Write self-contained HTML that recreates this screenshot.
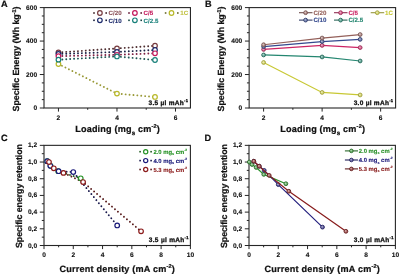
<!DOCTYPE html><html><head><meta charset="utf-8"><style>html,body{margin:0;padding:0;background:#fff;width:400px;height:275px;overflow:hidden}svg{display:block;will-change:transform;filter:blur(0.3px)}text{font-family:"Liberation Sans",sans-serif;font-weight:bold;text-rendering:geometricPrecision}</style></head><body>
<svg width="400" height="275" viewBox="0 0 400 275">
<rect width="400" height="275" fill="#fff"/>
<text x="1" y="7" font-size="9.2" text-anchor="start" fill="#111" stroke="#111" stroke-width="0.2" >A</text>
<line x1="39.8" y1="108" x2="44" y2="108" stroke="#262626" stroke-width="1" />
<text x="37.1" y="110.05" font-size="6.6" text-anchor="end" fill="#111" stroke="#111" stroke-width="0.12" >0</text>
<line x1="41.8" y1="99.63" x2="44" y2="99.63" stroke="#262626" stroke-width="1" />
<line x1="41.8" y1="91.27" x2="44" y2="91.27" stroke="#262626" stroke-width="1" />
<line x1="41.8" y1="82.9" x2="44" y2="82.9" stroke="#262626" stroke-width="1" />
<line x1="39.8" y1="74.53" x2="44" y2="74.53" stroke="#262626" stroke-width="1" />
<text x="37.1" y="76.58" font-size="6.6" text-anchor="end" fill="#111" stroke="#111" stroke-width="0.12" >200</text>
<line x1="41.8" y1="66.17" x2="44" y2="66.17" stroke="#262626" stroke-width="1" />
<line x1="41.8" y1="57.8" x2="44" y2="57.8" stroke="#262626" stroke-width="1" />
<line x1="41.8" y1="49.43" x2="44" y2="49.43" stroke="#262626" stroke-width="1" />
<line x1="39.8" y1="41.07" x2="44" y2="41.07" stroke="#262626" stroke-width="1" />
<text x="37.1" y="43.12" font-size="6.6" text-anchor="end" fill="#111" stroke="#111" stroke-width="0.12" >400</text>
<line x1="41.8" y1="32.7" x2="44" y2="32.7" stroke="#262626" stroke-width="1" />
<line x1="41.8" y1="24.33" x2="44" y2="24.33" stroke="#262626" stroke-width="1" />
<line x1="41.8" y1="15.97" x2="44" y2="15.97" stroke="#262626" stroke-width="1" />
<line x1="39.8" y1="7.6" x2="44" y2="7.6" stroke="#262626" stroke-width="1" />
<text x="37.1" y="9.65" font-size="6.6" text-anchor="end" fill="#111" stroke="#111" stroke-width="0.12" >600</text>
<line x1="58.45" y1="108" x2="58.45" y2="111.6" stroke="#262626" stroke-width="1" />
<text x="58.45" y="119.7" font-size="6.6" text-anchor="middle" fill="#111" stroke="#111" stroke-width="0.12" >2</text>
<line x1="87.71" y1="108" x2="87.71" y2="109.8" stroke="#262626" stroke-width="1" />
<line x1="116.97" y1="108" x2="116.97" y2="111.6" stroke="#262626" stroke-width="1" />
<text x="116.97" y="119.7" font-size="6.6" text-anchor="middle" fill="#111" stroke="#111" stroke-width="0.12" >4</text>
<line x1="146.23" y1="108" x2="146.23" y2="109.8" stroke="#262626" stroke-width="1" />
<line x1="175.49" y1="108" x2="175.49" y2="111.6" stroke="#262626" stroke-width="1" />
<text x="175.49" y="119.7" font-size="6.6" text-anchor="middle" fill="#111" stroke="#111" stroke-width="0.12" >6</text>
<rect x="44" y="7.6" width="146.45" height="100.4" fill="none" stroke="#262626" stroke-width="1.1"/>
<text transform="translate(19.1,111.4) rotate(-90)" font-size="8.9" textLength="104.8" lengthAdjust="spacing" fill="#111" stroke="#111" stroke-width="0.22">Specific Energy (Wh kg<tspan font-size="5.6" dy="-3.6">-1</tspan><tspan dy="3.6">)</tspan></text>
<text x="75.2" y="132" font-size="9.1" textLength="84.6" lengthAdjust="spacing" fill="#111" stroke="#111" stroke-width="0.22">Loading (mg<tspan font-size="6.2" dy="2.7">s</tspan><tspan dy="-2.7"> cm</tspan><tspan font-size="5.6" dy="-3.6">-2</tspan><tspan dy="3.6">)</tspan></text>
<text x="148.5" y="105.1" font-size="6.5" text-anchor="start" fill="#111" stroke="#111" stroke-width="0.3" textLength="39.4" lengthAdjust="spacing" >3.5 µl mAh<tspan font-size="4.0" dy="-3.3">-1</tspan></text>
<path d="M58.45,63.99 L116.97,93.61 L155.01,96.96" fill="none" stroke="#9a9a39" stroke-width="1.9" stroke-linecap="round" stroke-dasharray="0.01 3.9"/>
<path d="M58.45,52.45 L116.97,48.43 L155.01,45.75" fill="none" stroke="#4e2d2f" stroke-width="1.9" stroke-linecap="round" stroke-dasharray="0.01 3.9"/>
<path d="M58.45,53.95 L116.97,51.94 L155.01,49.94" fill="none" stroke="#192145" stroke-width="1.9" stroke-linecap="round" stroke-dasharray="0.01 3.9"/>
<path d="M58.45,56.13 L116.97,54.79 L155.01,53.28" fill="none" stroke="#7c1f43" stroke-width="1.9" stroke-linecap="round" stroke-dasharray="0.01 3.9"/>
<path d="M58.45,59.64 L116.97,56.46 L155.01,59.98" fill="none" stroke="#1d5552" stroke-width="1.9" stroke-linecap="round" stroke-dasharray="0.01 3.9"/>
<circle cx="58.45" cy="63.99" r="2.3" fill="#fff" stroke="#b8b828" stroke-width="1.2"/>
<circle cx="116.97" cy="93.61" r="2.3" fill="#fff" stroke="#b8b828" stroke-width="1.2"/>
<circle cx="155.01" cy="96.96" r="2.3" fill="#fff" stroke="#b8b828" stroke-width="1.2"/>
<circle cx="58.45" cy="52.45" r="2.3" fill="#fff" stroke="#763a3e" stroke-width="1.2"/>
<circle cx="116.97" cy="48.43" r="2.3" fill="#fff" stroke="#763a3e" stroke-width="1.2"/>
<circle cx="155.01" cy="45.75" r="2.3" fill="#fff" stroke="#763a3e" stroke-width="1.2"/>
<circle cx="58.45" cy="53.95" r="2.3" fill="#fff" stroke="#1c2a6c" stroke-width="1.2"/>
<circle cx="116.97" cy="51.94" r="2.3" fill="#fff" stroke="#1c2a6c" stroke-width="1.2"/>
<circle cx="155.01" cy="49.94" r="2.3" fill="#fff" stroke="#1c2a6c" stroke-width="1.2"/>
<circle cx="58.45" cy="56.13" r="2.3" fill="#fff" stroke="#c4185a" stroke-width="1.2"/>
<circle cx="116.97" cy="54.79" r="2.3" fill="#fff" stroke="#c4185a" stroke-width="1.2"/>
<circle cx="155.01" cy="53.28" r="2.3" fill="#fff" stroke="#c4185a" stroke-width="1.2"/>
<circle cx="58.45" cy="59.64" r="2.3" fill="#fff" stroke="#18807a" stroke-width="1.2"/>
<circle cx="116.97" cy="56.46" r="2.3" fill="#fff" stroke="#18807a" stroke-width="1.2"/>
<circle cx="155.01" cy="59.98" r="2.3" fill="#fff" stroke="#18807a" stroke-width="1.2"/>
<rect x="93.2" y="12.2" width="1.6" height="1.6" fill="#412527"/>
<rect x="105.4" y="12.2" width="1.6" height="1.6" fill="#412527"/>
<circle cx="99.9" cy="13" r="2.3" fill="#fff" stroke="#763a3e" stroke-width="1.2"/>
<text x="108.6" y="15.2" font-size="6.2" text-anchor="start" fill="#8a5058" stroke="#8a5058" stroke-width="0.08" >C/20</text>
<rect x="128.2" y="12.2" width="1.6" height="1.6" fill="#671a37"/>
<rect x="140.4" y="12.2" width="1.6" height="1.6" fill="#671a37"/>
<circle cx="134.9" cy="13" r="2.3" fill="#fff" stroke="#c4185a" stroke-width="1.2"/>
<text x="143.6" y="15.2" font-size="6.2" text-anchor="start" fill="#c4185a" stroke="#c4185a" stroke-width="0.08" >C/5</text>
<rect x="164.8" y="12.2" width="1.6" height="1.6" fill="#676726"/>
<rect x="177" y="12.2" width="1.6" height="1.6" fill="#676726"/>
<circle cx="171.5" cy="13" r="2.3" fill="#fff" stroke="#b8b828" stroke-width="1.2"/>
<text x="180.2" y="15.2" font-size="6.2" text-anchor="start" fill="#c0c040" stroke="#c0c040" stroke-width="0.08" >1C</text>
<rect x="93.2" y="19.5" width="1.6" height="1.6" fill="#151b39"/>
<rect x="105.4" y="19.5" width="1.6" height="1.6" fill="#151b39"/>
<circle cx="99.9" cy="20.3" r="2.3" fill="#fff" stroke="#1c2a6c" stroke-width="1.2"/>
<text x="108.6" y="22.5" font-size="6.2" text-anchor="start" fill="#1c2a6c" stroke="#1c2a6c" stroke-width="0.08" >C/10</text>
<rect x="128.2" y="19.5" width="1.6" height="1.6" fill="#184744"/>
<rect x="140.4" y="19.5" width="1.6" height="1.6" fill="#184744"/>
<circle cx="134.9" cy="20.3" r="2.3" fill="#fff" stroke="#18807a" stroke-width="1.2"/>
<text x="143.6" y="22.5" font-size="6.2" text-anchor="start" fill="#18807a" stroke="#18807a" stroke-width="0.08" >C/2.5</text>
<text x="204.95" y="7" font-size="9.2" text-anchor="start" fill="#111" stroke="#111" stroke-width="0.2" >B</text>
<line x1="244.95" y1="108" x2="249.15" y2="108" stroke="#262626" stroke-width="1" />
<text x="242.25" y="110.05" font-size="6.6" text-anchor="end" fill="#111" stroke="#111" stroke-width="0.12" >0</text>
<line x1="246.95" y1="99.63" x2="249.15" y2="99.63" stroke="#262626" stroke-width="1" />
<line x1="246.95" y1="91.27" x2="249.15" y2="91.27" stroke="#262626" stroke-width="1" />
<line x1="246.95" y1="82.9" x2="249.15" y2="82.9" stroke="#262626" stroke-width="1" />
<line x1="244.95" y1="74.53" x2="249.15" y2="74.53" stroke="#262626" stroke-width="1" />
<text x="242.25" y="76.58" font-size="6.6" text-anchor="end" fill="#111" stroke="#111" stroke-width="0.12" >200</text>
<line x1="246.95" y1="66.17" x2="249.15" y2="66.17" stroke="#262626" stroke-width="1" />
<line x1="246.95" y1="57.8" x2="249.15" y2="57.8" stroke="#262626" stroke-width="1" />
<line x1="246.95" y1="49.43" x2="249.15" y2="49.43" stroke="#262626" stroke-width="1" />
<line x1="244.95" y1="41.07" x2="249.15" y2="41.07" stroke="#262626" stroke-width="1" />
<text x="242.25" y="43.12" font-size="6.6" text-anchor="end" fill="#111" stroke="#111" stroke-width="0.12" >400</text>
<line x1="246.95" y1="32.7" x2="249.15" y2="32.7" stroke="#262626" stroke-width="1" />
<line x1="246.95" y1="24.33" x2="249.15" y2="24.33" stroke="#262626" stroke-width="1" />
<line x1="246.95" y1="15.97" x2="249.15" y2="15.97" stroke="#262626" stroke-width="1" />
<line x1="244.95" y1="7.6" x2="249.15" y2="7.6" stroke="#262626" stroke-width="1" />
<text x="242.25" y="9.65" font-size="6.6" text-anchor="end" fill="#111" stroke="#111" stroke-width="0.12" >600</text>
<line x1="263.6" y1="108" x2="263.6" y2="111.6" stroke="#262626" stroke-width="1" />
<text x="263.6" y="119.7" font-size="6.6" text-anchor="middle" fill="#111" stroke="#111" stroke-width="0.12" >2</text>
<line x1="292.86" y1="108" x2="292.86" y2="109.8" stroke="#262626" stroke-width="1" />
<line x1="322.12" y1="108" x2="322.12" y2="111.6" stroke="#262626" stroke-width="1" />
<text x="322.12" y="119.7" font-size="6.6" text-anchor="middle" fill="#111" stroke="#111" stroke-width="0.12" >4</text>
<line x1="351.38" y1="108" x2="351.38" y2="109.8" stroke="#262626" stroke-width="1" />
<line x1="380.64" y1="108" x2="380.64" y2="111.6" stroke="#262626" stroke-width="1" />
<text x="380.64" y="119.7" font-size="6.6" text-anchor="middle" fill="#111" stroke="#111" stroke-width="0.12" >6</text>
<rect x="249.15" y="7.6" width="146.45" height="100.4" fill="none" stroke="#262626" stroke-width="1.1"/>
<text transform="translate(224.25,111.4) rotate(-90)" font-size="8.9" textLength="104.8" lengthAdjust="spacing" fill="#111" stroke="#111" stroke-width="0.22">Specific Energy (Wh kg<tspan font-size="5.6" dy="-3.6">-1</tspan><tspan dy="3.6">)</tspan></text>
<text x="280.35" y="132" font-size="9.1" textLength="84.6" lengthAdjust="spacing" fill="#111" stroke="#111" stroke-width="0.22">Loading (mg<tspan font-size="6.2" dy="2.7">s</tspan><tspan dy="-2.7"> cm</tspan><tspan font-size="5.6" dy="-3.6">-2</tspan><tspan dy="3.6">)</tspan></text>
<text x="353.65" y="105.1" font-size="6.5" text-anchor="start" fill="#111" stroke="#111" stroke-width="0.3" textLength="39.4" lengthAdjust="spacing" >3.0 µl mAh<tspan font-size="4.0" dy="-3.3">-1</tspan></text>
<path d="M263.6,62.49 L322.12,92.44 L360.16,94.95" fill="none" stroke="#c8c834" stroke-width="1.2"/>
<circle cx="263.6" cy="62.49" r="1.9" fill="#d8d870" stroke="#9f9f41" stroke-width="0.9"/>
<circle cx="263.25" cy="62.14" r="0.85" fill="#fff" fill-opacity="0.45"/>
<circle cx="322.12" cy="92.44" r="1.9" fill="#d8d870" stroke="#9f9f41" stroke-width="0.9"/>
<circle cx="321.77" cy="92.09" r="0.85" fill="#fff" fill-opacity="0.45"/>
<circle cx="360.16" cy="94.95" r="1.9" fill="#d8d870" stroke="#9f9f41" stroke-width="0.9"/>
<circle cx="359.81" cy="94.6" r="0.85" fill="#fff" fill-opacity="0.45"/>
<path d="M263.6,54.96 L322.12,56.96 L360.16,60.98" fill="none" stroke="#248670" stroke-width="1.2"/>
<circle cx="263.6" cy="54.96" r="1.9" fill="#65aa9a" stroke="#2a695b" stroke-width="0.9"/>
<circle cx="263.25" cy="54.61" r="0.85" fill="#fff" fill-opacity="0.45"/>
<circle cx="322.12" cy="56.96" r="1.9" fill="#65aa9a" stroke="#2a695b" stroke-width="0.9"/>
<circle cx="321.77" cy="56.61" r="0.85" fill="#fff" fill-opacity="0.45"/>
<circle cx="360.16" cy="60.98" r="1.9" fill="#65aa9a" stroke="#2a695b" stroke-width="0.9"/>
<circle cx="359.81" cy="60.63" r="0.85" fill="#fff" fill-opacity="0.45"/>
<path d="M263.6,49.43 L322.12,45.42 L360.16,47.59" fill="none" stroke="#cc2464" stroke-width="1.2"/>
<circle cx="263.6" cy="49.43" r="1.9" fill="#db6592" stroke="#9a2f57" stroke-width="0.9"/>
<circle cx="263.25" cy="49.08" r="0.85" fill="#fff" fill-opacity="0.45"/>
<circle cx="322.12" cy="45.42" r="1.9" fill="#db6592" stroke="#9a2f57" stroke-width="0.9"/>
<circle cx="321.77" cy="45.07" r="0.85" fill="#fff" fill-opacity="0.45"/>
<circle cx="360.16" cy="47.59" r="1.9" fill="#db6592" stroke="#9a2f57" stroke-width="0.9"/>
<circle cx="359.81" cy="47.24" r="0.85" fill="#fff" fill-opacity="0.45"/>
<path d="M263.6,46.59 L322.12,41.57 L360.16,39.39" fill="none" stroke="#34498e" stroke-width="1.2"/>
<circle cx="263.6" cy="46.59" r="1.9" fill="#707faf" stroke="#34416d" stroke-width="0.9"/>
<circle cx="263.25" cy="46.24" r="0.85" fill="#fff" fill-opacity="0.45"/>
<circle cx="322.12" cy="41.57" r="1.9" fill="#707faf" stroke="#34416d" stroke-width="0.9"/>
<circle cx="321.77" cy="41.22" r="0.85" fill="#fff" fill-opacity="0.45"/>
<circle cx="360.16" cy="39.39" r="1.9" fill="#707faf" stroke="#34416d" stroke-width="0.9"/>
<circle cx="359.81" cy="39.04" r="0.85" fill="#fff" fill-opacity="0.45"/>
<path d="M263.6,44.75 L322.12,38.05 L360.16,34.54" fill="none" stroke="#94605a" stroke-width="1.2"/>
<circle cx="263.6" cy="44.75" r="1.9" fill="#b48f8b" stroke="#765451" stroke-width="0.9"/>
<circle cx="263.25" cy="44.4" r="0.85" fill="#fff" fill-opacity="0.45"/>
<circle cx="322.12" cy="38.05" r="1.9" fill="#b48f8b" stroke="#765451" stroke-width="0.9"/>
<circle cx="321.77" cy="37.7" r="0.85" fill="#fff" fill-opacity="0.45"/>
<circle cx="360.16" cy="34.54" r="1.9" fill="#b48f8b" stroke="#765451" stroke-width="0.9"/>
<circle cx="359.81" cy="34.19" r="0.85" fill="#fff" fill-opacity="0.45"/>
<line x1="299" y1="12.7" x2="312.5" y2="12.7" stroke="#6f4f4c" stroke-width="1.1" />
<circle cx="305.6" cy="12.7" r="1.9" fill="#b48f8b" stroke="#765451" stroke-width="0.9"/>
<circle cx="305.25" cy="12.35" r="0.85" fill="#fff" fill-opacity="0.45"/>
<text x="313.4" y="14.9" font-size="6.2" text-anchor="start" fill="#94605a" stroke="#94605a" stroke-width="0.1" >C/20</text>
<line x1="334" y1="12.7" x2="347.5" y2="12.7" stroke="#912c52" stroke-width="1.1" />
<circle cx="340.6" cy="12.7" r="1.9" fill="#db6592" stroke="#9a2f57" stroke-width="0.9"/>
<circle cx="340.25" cy="12.35" r="0.85" fill="#fff" fill-opacity="0.45"/>
<text x="348.4" y="14.9" font-size="6.2" text-anchor="start" fill="#cc2464" stroke="#cc2464" stroke-width="0.1" >C/5</text>
<line x1="370.7" y1="12.7" x2="384.2" y2="12.7" stroke="#96963d" stroke-width="1.1" />
<circle cx="377.3" cy="12.7" r="1.9" fill="#d8d870" stroke="#9f9f41" stroke-width="0.9"/>
<circle cx="376.95" cy="12.35" r="0.85" fill="#fff" fill-opacity="0.45"/>
<text x="385.1" y="14.9" font-size="6.2" text-anchor="start" fill="#c8c834" stroke="#c8c834" stroke-width="0.1" >1C</text>
<line x1="299" y1="20.1" x2="312.5" y2="20.1" stroke="#313d67" stroke-width="1.1" />
<circle cx="305.6" cy="20.1" r="1.9" fill="#707faf" stroke="#34416d" stroke-width="0.9"/>
<circle cx="305.25" cy="19.75" r="0.85" fill="#fff" fill-opacity="0.45"/>
<text x="313.4" y="22.3" font-size="6.2" text-anchor="start" fill="#34498e" stroke="#34498e" stroke-width="0.1" >C/10</text>
<line x1="334" y1="20.1" x2="347.5" y2="20.1" stroke="#286356" stroke-width="1.1" />
<circle cx="340.6" cy="20.1" r="1.9" fill="#65aa9a" stroke="#2a695b" stroke-width="0.9"/>
<circle cx="340.25" cy="19.75" r="0.85" fill="#fff" fill-opacity="0.45"/>
<text x="348.4" y="22.3" font-size="6.2" text-anchor="start" fill="#248670" stroke="#248670" stroke-width="0.1" >C/2.5</text>
<text x="0.9" y="141.4" font-size="9.2" text-anchor="start" fill="#111" stroke="#111" stroke-width="0.2" >C</text>
<line x1="39.8" y1="245.5" x2="44" y2="245.5" stroke="#262626" stroke-width="1" />
<text x="37.1" y="247.55" font-size="6.6" text-anchor="end" fill="#111" stroke="#111" stroke-width="0.12" >0,0</text>
<line x1="41.8" y1="237.15" x2="44" y2="237.15" stroke="#262626" stroke-width="1" />
<line x1="39.8" y1="228.81" x2="44" y2="228.81" stroke="#262626" stroke-width="1" />
<text x="37.1" y="230.86" font-size="6.6" text-anchor="end" fill="#111" stroke="#111" stroke-width="0.12" >0,2</text>
<line x1="41.8" y1="220.46" x2="44" y2="220.46" stroke="#262626" stroke-width="1" />
<line x1="39.8" y1="212.12" x2="44" y2="212.12" stroke="#262626" stroke-width="1" />
<text x="37.1" y="214.17" font-size="6.6" text-anchor="end" fill="#111" stroke="#111" stroke-width="0.12" >0,4</text>
<line x1="41.8" y1="203.77" x2="44" y2="203.77" stroke="#262626" stroke-width="1" />
<line x1="39.8" y1="195.43" x2="44" y2="195.43" stroke="#262626" stroke-width="1" />
<text x="37.1" y="197.48" font-size="6.6" text-anchor="end" fill="#111" stroke="#111" stroke-width="0.12" >0,6</text>
<line x1="41.8" y1="187.08" x2="44" y2="187.08" stroke="#262626" stroke-width="1" />
<line x1="39.8" y1="178.73" x2="44" y2="178.73" stroke="#262626" stroke-width="1" />
<text x="37.1" y="180.78" font-size="6.6" text-anchor="end" fill="#111" stroke="#111" stroke-width="0.12" >0,8</text>
<line x1="41.8" y1="170.39" x2="44" y2="170.39" stroke="#262626" stroke-width="1" />
<line x1="39.8" y1="162.04" x2="44" y2="162.04" stroke="#262626" stroke-width="1" />
<text x="37.1" y="164.09" font-size="6.6" text-anchor="end" fill="#111" stroke="#111" stroke-width="0.12" >1,0</text>
<line x1="41.8" y1="153.7" x2="44" y2="153.7" stroke="#262626" stroke-width="1" />
<line x1="39.8" y1="145.35" x2="44" y2="145.35" stroke="#262626" stroke-width="1" />
<text x="37.1" y="147.4" font-size="6.6" text-anchor="end" fill="#111" stroke="#111" stroke-width="0.12" >1,2</text>
<line x1="44" y1="245.5" x2="44" y2="249.1" stroke="#262626" stroke-width="1" />
<text x="44" y="256.5" font-size="6.6" text-anchor="middle" fill="#111" stroke="#111" stroke-width="0.12" >0</text>
<line x1="58.64" y1="245.5" x2="58.64" y2="247.3" stroke="#262626" stroke-width="1" />
<line x1="73.28" y1="245.5" x2="73.28" y2="249.1" stroke="#262626" stroke-width="1" />
<text x="73.28" y="256.5" font-size="6.6" text-anchor="middle" fill="#111" stroke="#111" stroke-width="0.12" >2</text>
<line x1="87.92" y1="245.5" x2="87.92" y2="247.3" stroke="#262626" stroke-width="1" />
<line x1="102.56" y1="245.5" x2="102.56" y2="249.1" stroke="#262626" stroke-width="1" />
<text x="102.56" y="256.5" font-size="6.6" text-anchor="middle" fill="#111" stroke="#111" stroke-width="0.12" >4</text>
<line x1="117.2" y1="245.5" x2="117.2" y2="247.3" stroke="#262626" stroke-width="1" />
<line x1="131.84" y1="245.5" x2="131.84" y2="249.1" stroke="#262626" stroke-width="1" />
<text x="131.84" y="256.5" font-size="6.6" text-anchor="middle" fill="#111" stroke="#111" stroke-width="0.12" >6</text>
<line x1="146.48" y1="245.5" x2="146.48" y2="247.3" stroke="#262626" stroke-width="1" />
<line x1="161.12" y1="245.5" x2="161.12" y2="249.1" stroke="#262626" stroke-width="1" />
<text x="161.12" y="256.5" font-size="6.6" text-anchor="middle" fill="#111" stroke="#111" stroke-width="0.12" >8</text>
<line x1="175.76" y1="245.5" x2="175.76" y2="247.3" stroke="#262626" stroke-width="1" />
<line x1="190.4" y1="245.5" x2="190.4" y2="249.1" stroke="#262626" stroke-width="1" />
<text x="190.4" y="256.5" font-size="6.6" text-anchor="middle" fill="#111" stroke="#111" stroke-width="0.12" >10</text>
<rect x="44" y="145.35" width="146.4" height="100.15" fill="none" stroke="#262626" stroke-width="1.1"/>
<text transform="translate(21.9,248) rotate(-90)" font-size="8.9" textLength="104" lengthAdjust="spacing" fill="#111" stroke="#111" stroke-width="0.22">Specific energy retention</text>
<text x="59.6" y="271.5" font-size="9.1" textLength="115.2" lengthAdjust="spacing" fill="#111" stroke="#111" stroke-width="0.22">Current density (mA cm<tspan font-size="5.6" dy="-3.6">-2</tspan><tspan dy="3.6">)</tspan></text>
<text x="148.8" y="242.3" font-size="6.5" text-anchor="start" fill="#111" stroke="#111" stroke-width="0.3" textLength="39.6" lengthAdjust="spacing" >3.5 µl mAh<tspan font-size="4.0" dy="-3.3">-1</tspan></text>
<path d="M47.22,161.21 L50.59,165.8 L58.2,171.22 L80.75,178.32" fill="none" stroke="#215c21" stroke-width="1.9" stroke-linecap="round" stroke-dasharray="0.01 3.9"/>
<path d="M47.22,161.21 L50.3,165.8 L58.64,171.22 L73.28,172.06 L117.2,225.47" fill="none" stroke="#18184c" stroke-width="1.9" stroke-linecap="round" stroke-dasharray="0.01 3.9"/>
<path d="M48.98,162.04 L53.81,168.3 L63.47,172.89 L83.09,182.07 L141.06,231.31" fill="none" stroke="#571a1a" stroke-width="1.9" stroke-linecap="round" stroke-dasharray="0.01 3.9"/>
<circle cx="47.22" cy="161.21" r="2.3" fill="#fff" stroke="#269226" stroke-width="1.2"/>
<circle cx="50.59" cy="165.8" r="2.3" fill="#fff" stroke="#269226" stroke-width="1.2"/>
<circle cx="58.2" cy="171.22" r="2.3" fill="#fff" stroke="#269226" stroke-width="1.2"/>
<circle cx="80.75" cy="178.32" r="2.3" fill="#fff" stroke="#269226" stroke-width="1.2"/>
<circle cx="47.22" cy="161.21" r="2.3" fill="#fff" stroke="#1a1a7a" stroke-width="1.2"/>
<circle cx="50.3" cy="165.8" r="2.3" fill="#fff" stroke="#1a1a7a" stroke-width="1.2"/>
<circle cx="58.64" cy="171.22" r="2.3" fill="#fff" stroke="#1a1a7a" stroke-width="1.2"/>
<circle cx="73.28" cy="172.06" r="2.3" fill="#fff" stroke="#1a1a7a" stroke-width="1.2"/>
<circle cx="117.2" cy="225.47" r="2.3" fill="#fff" stroke="#1a1a7a" stroke-width="1.2"/>
<circle cx="48.98" cy="162.04" r="2.3" fill="#fff" stroke="#8c1c1c" stroke-width="1.2"/>
<circle cx="53.81" cy="168.3" r="2.3" fill="#fff" stroke="#8c1c1c" stroke-width="1.2"/>
<circle cx="63.47" cy="172.89" r="2.3" fill="#fff" stroke="#8c1c1c" stroke-width="1.2"/>
<circle cx="83.09" cy="182.07" r="2.3" fill="#fff" stroke="#8c1c1c" stroke-width="1.2"/>
<circle cx="141.06" cy="231.31" r="2.3" fill="#fff" stroke="#8c1c1c" stroke-width="1.2"/>
<rect x="139.3" y="150.9" width="1.6" height="1.6" fill="#215c21"/>
<rect x="150.3" y="150.9" width="1.6" height="1.6" fill="#215c21"/>
<circle cx="145.7" cy="151.7" r="2.1" fill="#fff" stroke="#269226" stroke-width="1.2"/>
<text x="153.4" y="153.7" font-size="5.9" text-anchor="start" fill="#269226" stroke="#269226" stroke-width="0.12" >2.0 mg<tspan font-size="3.6" dy="1.5">s</tspan><tspan dy="-1.5"> cm</tspan><tspan font-size="3.3" dy="-2.6">-2</tspan></text>
<rect x="139.3" y="159.8" width="1.6" height="1.6" fill="#18184c"/>
<rect x="150.3" y="159.8" width="1.6" height="1.6" fill="#18184c"/>
<circle cx="145.7" cy="160.6" r="2.1" fill="#fff" stroke="#1a1a7a" stroke-width="1.2"/>
<text x="153.4" y="162.6" font-size="5.9" text-anchor="start" fill="#1a1a7a" stroke="#1a1a7a" stroke-width="0.12" >4.0 mg<tspan font-size="3.6" dy="1.5">s</tspan><tspan dy="-1.5"> cm</tspan><tspan font-size="3.3" dy="-2.6">-2</tspan></text>
<rect x="139.3" y="168.7" width="1.6" height="1.6" fill="#571a1a"/>
<rect x="150.3" y="168.7" width="1.6" height="1.6" fill="#571a1a"/>
<circle cx="145.7" cy="169.5" r="2.1" fill="#fff" stroke="#8c1c1c" stroke-width="1.2"/>
<text x="153.4" y="171.5" font-size="5.9" text-anchor="start" fill="#8c1c1c" stroke="#8c1c1c" stroke-width="0.12" >5.3 mg<tspan font-size="3.6" dy="1.5">s</tspan><tspan dy="-1.5"> cm</tspan><tspan font-size="3.3" dy="-2.6">-2</tspan></text>
<text x="204.6" y="141.4" font-size="9.2" text-anchor="start" fill="#111" stroke="#111" stroke-width="0.2" >D</text>
<line x1="244.8" y1="245.5" x2="249" y2="245.5" stroke="#262626" stroke-width="1" />
<text x="242.1" y="247.55" font-size="6.6" text-anchor="end" fill="#111" stroke="#111" stroke-width="0.12" >0,0</text>
<line x1="246.8" y1="237.15" x2="249" y2="237.15" stroke="#262626" stroke-width="1" />
<line x1="244.8" y1="228.81" x2="249" y2="228.81" stroke="#262626" stroke-width="1" />
<text x="242.1" y="230.86" font-size="6.6" text-anchor="end" fill="#111" stroke="#111" stroke-width="0.12" >0,2</text>
<line x1="246.8" y1="220.46" x2="249" y2="220.46" stroke="#262626" stroke-width="1" />
<line x1="244.8" y1="212.12" x2="249" y2="212.12" stroke="#262626" stroke-width="1" />
<text x="242.1" y="214.17" font-size="6.6" text-anchor="end" fill="#111" stroke="#111" stroke-width="0.12" >0,4</text>
<line x1="246.8" y1="203.77" x2="249" y2="203.77" stroke="#262626" stroke-width="1" />
<line x1="244.8" y1="195.43" x2="249" y2="195.43" stroke="#262626" stroke-width="1" />
<text x="242.1" y="197.48" font-size="6.6" text-anchor="end" fill="#111" stroke="#111" stroke-width="0.12" >0,6</text>
<line x1="246.8" y1="187.08" x2="249" y2="187.08" stroke="#262626" stroke-width="1" />
<line x1="244.8" y1="178.73" x2="249" y2="178.73" stroke="#262626" stroke-width="1" />
<text x="242.1" y="180.78" font-size="6.6" text-anchor="end" fill="#111" stroke="#111" stroke-width="0.12" >0,8</text>
<line x1="246.8" y1="170.39" x2="249" y2="170.39" stroke="#262626" stroke-width="1" />
<line x1="244.8" y1="162.04" x2="249" y2="162.04" stroke="#262626" stroke-width="1" />
<text x="242.1" y="164.09" font-size="6.6" text-anchor="end" fill="#111" stroke="#111" stroke-width="0.12" >1,0</text>
<line x1="246.8" y1="153.7" x2="249" y2="153.7" stroke="#262626" stroke-width="1" />
<line x1="244.8" y1="145.35" x2="249" y2="145.35" stroke="#262626" stroke-width="1" />
<text x="242.1" y="147.4" font-size="6.6" text-anchor="end" fill="#111" stroke="#111" stroke-width="0.12" >1,2</text>
<line x1="249" y1="245.5" x2="249" y2="249.1" stroke="#262626" stroke-width="1" />
<text x="249" y="256.5" font-size="6.6" text-anchor="middle" fill="#111" stroke="#111" stroke-width="0.12" >0</text>
<line x1="263.64" y1="245.5" x2="263.64" y2="247.3" stroke="#262626" stroke-width="1" />
<line x1="278.28" y1="245.5" x2="278.28" y2="249.1" stroke="#262626" stroke-width="1" />
<text x="278.28" y="256.5" font-size="6.6" text-anchor="middle" fill="#111" stroke="#111" stroke-width="0.12" >2</text>
<line x1="292.92" y1="245.5" x2="292.92" y2="247.3" stroke="#262626" stroke-width="1" />
<line x1="307.56" y1="245.5" x2="307.56" y2="249.1" stroke="#262626" stroke-width="1" />
<text x="307.56" y="256.5" font-size="6.6" text-anchor="middle" fill="#111" stroke="#111" stroke-width="0.12" >4</text>
<line x1="322.2" y1="245.5" x2="322.2" y2="247.3" stroke="#262626" stroke-width="1" />
<line x1="336.84" y1="245.5" x2="336.84" y2="249.1" stroke="#262626" stroke-width="1" />
<text x="336.84" y="256.5" font-size="6.6" text-anchor="middle" fill="#111" stroke="#111" stroke-width="0.12" >6</text>
<line x1="351.48" y1="245.5" x2="351.48" y2="247.3" stroke="#262626" stroke-width="1" />
<line x1="366.12" y1="245.5" x2="366.12" y2="249.1" stroke="#262626" stroke-width="1" />
<text x="366.12" y="256.5" font-size="6.6" text-anchor="middle" fill="#111" stroke="#111" stroke-width="0.12" >8</text>
<line x1="380.76" y1="245.5" x2="380.76" y2="247.3" stroke="#262626" stroke-width="1" />
<line x1="395.4" y1="245.5" x2="395.4" y2="249.1" stroke="#262626" stroke-width="1" />
<text x="395.4" y="256.5" font-size="6.6" text-anchor="middle" fill="#111" stroke="#111" stroke-width="0.12" >10</text>
<rect x="249" y="145.35" width="146.4" height="100.15" fill="none" stroke="#262626" stroke-width="1.1"/>
<text transform="translate(226.9,248) rotate(-90)" font-size="8.9" textLength="104" lengthAdjust="spacing" fill="#111" stroke="#111" stroke-width="0.22">Specific energy retention</text>
<text x="264.6" y="271.5" font-size="9.1" textLength="115.2" lengthAdjust="spacing" fill="#111" stroke="#111" stroke-width="0.22">Current density (mA cm<tspan font-size="5.6" dy="-3.6">-2</tspan><tspan dy="3.6">)</tspan></text>
<text x="353.8" y="242.3" font-size="6.5" text-anchor="start" fill="#111" stroke="#111" stroke-width="0.3" textLength="39.6" lengthAdjust="spacing" >3.0 µl mAh<tspan font-size="4.0" dy="-3.3">-1</tspan></text>
<path d="M249.29,162.04 L252.07,164.55 L256.17,167.47 L263.79,174.39 L285.89,183.74" fill="none" stroke="#2c922c" stroke-width="1.2"/>
<circle cx="249.29" cy="162.04" r="1.9" fill="#6bb26b" stroke="#2c6d2c" stroke-width="0.9"/>
<circle cx="248.94" cy="161.69" r="0.85" fill="#fff" fill-opacity="0.45"/>
<circle cx="252.07" cy="164.55" r="1.9" fill="#6bb26b" stroke="#2c6d2c" stroke-width="0.9"/>
<circle cx="251.72" cy="164.2" r="0.85" fill="#fff" fill-opacity="0.45"/>
<circle cx="256.17" cy="167.47" r="1.9" fill="#6bb26b" stroke="#2c6d2c" stroke-width="0.9"/>
<circle cx="255.82" cy="167.12" r="0.85" fill="#fff" fill-opacity="0.45"/>
<circle cx="263.79" cy="174.39" r="1.9" fill="#6bb26b" stroke="#2c6d2c" stroke-width="0.9"/>
<circle cx="263.44" cy="174.04" r="0.85" fill="#fff" fill-opacity="0.45"/>
<circle cx="285.89" cy="183.74" r="1.9" fill="#6bb26b" stroke="#2c6d2c" stroke-width="0.9"/>
<circle cx="285.54" cy="183.39" r="0.85" fill="#fff" fill-opacity="0.45"/>
<path d="M253.83,161.21 L259.25,166.21 L264.23,170.39 L278.28,184.58 L322.49,227.14" fill="none" stroke="#24207e" stroke-width="1.2"/>
<circle cx="253.83" cy="161.21" r="1.9" fill="#6562a4" stroke="#24225e" stroke-width="0.9"/>
<circle cx="253.48" cy="160.86" r="0.85" fill="#fff" fill-opacity="0.45"/>
<circle cx="259.25" cy="166.21" r="1.9" fill="#6562a4" stroke="#24225e" stroke-width="0.9"/>
<circle cx="258.9" cy="165.86" r="0.85" fill="#fff" fill-opacity="0.45"/>
<circle cx="264.23" cy="170.39" r="1.9" fill="#6562a4" stroke="#24225e" stroke-width="0.9"/>
<circle cx="263.88" cy="170.04" r="0.85" fill="#fff" fill-opacity="0.45"/>
<circle cx="278.28" cy="184.58" r="1.9" fill="#6562a4" stroke="#24225e" stroke-width="0.9"/>
<circle cx="277.93" cy="184.23" r="0.85" fill="#fff" fill-opacity="0.45"/>
<circle cx="322.49" cy="227.14" r="1.9" fill="#6562a4" stroke="#24225e" stroke-width="0.9"/>
<circle cx="322.14" cy="226.79" r="0.85" fill="#fff" fill-opacity="0.45"/>
<path d="M253.83,161.21 L259.25,166.21 L269.2,175.39 L288.82,191.25 L345.92,231.31" fill="none" stroke="#881c1c" stroke-width="1.2"/>
<circle cx="253.83" cy="161.21" r="1.9" fill="#ab6060" stroke="#641f1f" stroke-width="0.9"/>
<circle cx="253.48" cy="160.86" r="0.85" fill="#fff" fill-opacity="0.45"/>
<circle cx="259.25" cy="166.21" r="1.9" fill="#ab6060" stroke="#641f1f" stroke-width="0.9"/>
<circle cx="258.9" cy="165.86" r="0.85" fill="#fff" fill-opacity="0.45"/>
<circle cx="269.2" cy="175.39" r="1.9" fill="#ab6060" stroke="#641f1f" stroke-width="0.9"/>
<circle cx="268.85" cy="175.04" r="0.85" fill="#fff" fill-opacity="0.45"/>
<circle cx="288.82" cy="191.25" r="1.9" fill="#ab6060" stroke="#641f1f" stroke-width="0.9"/>
<circle cx="288.47" cy="190.9" r="0.85" fill="#fff" fill-opacity="0.45"/>
<circle cx="345.92" cy="231.31" r="1.9" fill="#ab6060" stroke="#641f1f" stroke-width="0.9"/>
<circle cx="345.57" cy="230.96" r="0.85" fill="#fff" fill-opacity="0.45"/>
<line x1="344.9" y1="150.9" x2="358" y2="150.9" stroke="#2a672a" stroke-width="1.1" />
<circle cx="351.4" cy="150.9" r="1.8" fill="#6bb26b" stroke="#2c6d2c" stroke-width="0.9"/>
<circle cx="351.05" cy="150.55" r="0.81" fill="#fff" fill-opacity="0.45"/>
<text x="358.8" y="152.9" font-size="5.9" text-anchor="start" fill="#2c922c" stroke="#2c922c" stroke-width="0.12" >2.0 mg<tspan font-size="3.6" dy="1.5">s</tspan><tspan dy="-1.5"> cm</tspan><tspan font-size="3.3" dy="-2.6">-2</tspan></text>
<line x1="344.9" y1="160" x2="358" y2="160" stroke="#222058" stroke-width="1.1" />
<circle cx="351.4" cy="160" r="1.8" fill="#6562a4" stroke="#24225e" stroke-width="0.9"/>
<circle cx="351.05" cy="159.65" r="0.81" fill="#fff" fill-opacity="0.45"/>
<text x="358.8" y="162" font-size="5.9" text-anchor="start" fill="#24207e" stroke="#24207e" stroke-width="0.12" >4.0 mg<tspan font-size="3.6" dy="1.5">s</tspan><tspan dy="-1.5"> cm</tspan><tspan font-size="3.3" dy="-2.6">-2</tspan></text>
<line x1="344.9" y1="168.9" x2="358" y2="168.9" stroke="#5e1d1d" stroke-width="1.1" />
<circle cx="351.4" cy="168.9" r="1.8" fill="#ab6060" stroke="#641f1f" stroke-width="0.9"/>
<circle cx="351.05" cy="168.55" r="0.81" fill="#fff" fill-opacity="0.45"/>
<text x="358.8" y="170.9" font-size="5.9" text-anchor="start" fill="#881c1c" stroke="#881c1c" stroke-width="0.12" >5.3 mg<tspan font-size="3.6" dy="1.5">s</tspan><tspan dy="-1.5"> cm</tspan><tspan font-size="3.3" dy="-2.6">-2</tspan></text>
</svg></body></html>
